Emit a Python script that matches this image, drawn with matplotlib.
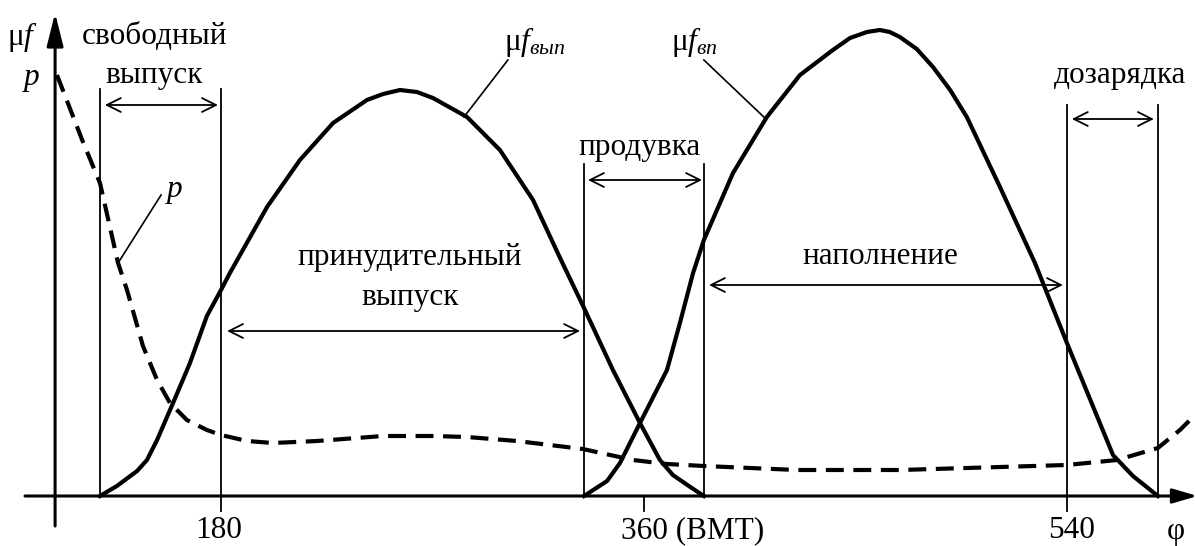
import matplotlib
matplotlib.use("Agg")
import matplotlib.pyplot as plt
from matplotlib.patches import FancyArrowPatch

plt.rcParams['font.family'] = ['Liberation Serif', 'DejaVu Serif']
plt.rcParams['mathtext.fontset'] = 'custom'
plt.rcParams['mathtext.rm'] = 'Liberation Serif'
plt.rcParams['mathtext.it'] = 'Liberation Serif:italic'

# угол поворота коленвала, град.
phi_vyp = [128.5, 135.7, 144.3, 148.5, 152.8, 159.6, 166.8, 174.0, 180.0, 183.8,
           199.6, 213.6, 227.7, 242.1, 249.0, 256.2, 263.4, 270.2, 284.7, 298.7,
           312.8, 324.3, 334.5, 346.8, 358.3, 366.8, 372.3, 379.1, 385.5]
# время-сечение выпускных органов
mf_vyp = [0.0, 0.10, 0.25, 0.36, 0.56, 0.93, 1.33, 1.80, 2.06, 2.23,
          2.89, 3.36, 3.73, 3.96, 4.02, 4.06, 4.04, 3.98, 3.79, 3.46,
          2.96, 2.38, 1.88, 1.26, 0.73, 0.36, 0.21, 0.10, 0.0]

phi_vp = [334.5, 344.3, 349.8, 358.3, 369.8, 375.3, 380.9, 385.5, 397.9, 412.3,
          426.4, 440.4, 447.7, 454.9, 460.4, 464.6, 468.9, 476.1, 483.0, 490.3,
          497.4, 511.5, 526.4, 540.0, 554.0, 559.6, 568.1, 578.7]
mf_vp = [0.0, 0.15, 0.33, 0.73, 1.26, 1.73, 2.23, 2.56, 3.23, 3.79,
         4.21, 4.46, 4.58, 4.64, 4.66, 4.64, 4.59, 4.47, 4.29, 4.06,
         3.79, 3.09, 2.33, 1.53, 0.73, 0.41, 0.20, 0.0]

# давление в цилиндре
phi_p = [110.2, 121.1, 128.5, 136.2, 140.0, 146.8, 152.8, 158.3, 165.5, 174.0,
         180.0, 191.1, 202.1, 220.9, 248.9, 270.2, 284.7, 305.9, 334.0, 355.3,
         369.8, 385.5, 425.1, 468.9, 540.0, 561.3, 578.7, 588.1, 594.5]
p = [4.21, 3.55, 3.13, 2.33, 2.06, 1.50, 1.16, 0.93, 0.76, 0.66,
     0.61, 0.55, 0.53, 0.55, 0.60, 0.60, 0.59, 0.55, 0.47, 0.36,
     0.32, 0.30, 0.26, 0.26, 0.31, 0.36, 0.48, 0.66, 0.81]

# границы фаз: (угол, верх линии)
granicy = [(128.5, 4.07), (180.0, 4.07), (334.5, 3.32), (385.5, 3.32),
           (540.0, 3.91), (578.7, 3.91)]
metki = [180, 360, 540]
metki_txt = ["180", "360 (ВМТ)", "540"]

fs = 22.5

fig = plt.figure(figsize=(11.95, 5.46), dpi=100)
ax = fig.add_axes([0, 0, 1, 1])
ax.set_xlim(85.96, 594.5)
ax.set_ylim(-0.5, 4.96)
ax.axis('off')

# оси
ax.annotate('', xy=(595.6, 0), xytext=(96.6, 0), annotation_clip=False,
            arrowprops=dict(arrowstyle='-|>,head_length=0.75,head_width=0.22',
                            lw=2.2, color='black', shrinkA=0, shrinkB=0,
                            mutation_scale=20))
ax.annotate('', xy=(109.4, 4.83), xytext=(109.4, -0.30), annotation_clip=False,
            arrowprops=dict(arrowstyle='-|>,head_length=1.0,head_width=0.25',
                            lw=2.2, color='black', shrinkA=0, shrinkB=0,
                            mutation_scale=20))

for x, top in granicy:
    ax.plot([x, x], [0, top], color='black', lw=1.3)
for x in metki:
    ax.plot([x, x], [0, -0.15], color='black', lw=1.3)

ax.text(179.1, -0.35, metki_txt[0], fontsize=fs, ha='center', va='center')
ax.text(380.9, -0.35, metki_txt[1], fontsize=fs, ha='center', va='center')
ax.text(542.1, -0.35, metki_txt[2], fontsize=fs, ha='center', va='center')
ax.text(586.4, -0.35, 'φ', fontsize=fs, ha='center', va='center')

# кривые
ax.plot(phi_vyp, mf_vyp, color='black', lw=3.0, solid_joinstyle='round')
ax.plot(phi_vp, mf_vp, color='black', lw=3.0, solid_joinstyle='round')
ax.plot(phi_p, p, color='black', lw=3.0, linestyle=(0, (4.3, 2.3)))

# стрелки фаз
def strelka(x1, x2, y):
    ar = FancyArrowPatch((x1, y), (x2, y),
                         arrowstyle='<->,head_length=0.5,head_width=0.25',
                         mutation_scale=20, lw=1.3, color='black',
                         shrinkA=0, shrinkB=0)
    ax.add_patch(ar)

strelka(130.6, 178.7, 3.91)
strelka(336.2, 384.7, 3.16)
strelka(542.1, 577.0, 3.77)
strelka(182.6, 332.8, 1.65)
strelka(387.7, 538.3, 2.11)

# выноски
ax.plot([154.5, 136.2], [3.01, 2.33], color='black', lw=1.2)
ax.plot([283.4, 302.1], [3.79, 4.36], color='black', lw=1.2)
ax.plot([411.9, 385.5], [3.77, 4.36], color='black', lw=1.2)

# подписи
ax.text(95.7, 4.59, 'μ$f$', fontsize=fs, ha='center', va='center')
ax.text(99.5, 4.18, 'p', fontsize=fs, style='italic', ha='center', va='center')
ax.text(160.4, 3.06, 'p', fontsize=fs, style='italic', ha='center', va='center')
ax.text(313.7, 4.54, 'μ$f_{вып}$', fontsize=fs, ha='center', va='center')
ax.text(381.7, 4.54, 'μ$f_{вп}$', fontsize=fs, ha='center', va='center')
ax.text(151.5, 4.59, 'свободный', fontsize=fs, ha='center', va='center')
ax.text(151.5, 4.21, 'выпуск', fontsize=fs, ha='center', va='center')
ax.text(358.3, 3.48, 'продувка', fontsize=fs, ha='center', va='center')
ax.text(562.6, 4.21, 'дозарядка', fontsize=fs, ha='center', va='center')
ax.text(260.4, 2.38, 'принудительный', fontsize=fs, ha='center', va='center')
ax.text(260.4, 1.99, 'выпуск', fontsize=fs, ha='center', va='center')
ax.text(460.4, 2.39, 'наполнение', fontsize=fs, ha='center', va='center')

plt.savefig('out.png', dpi=100, facecolor='white')
